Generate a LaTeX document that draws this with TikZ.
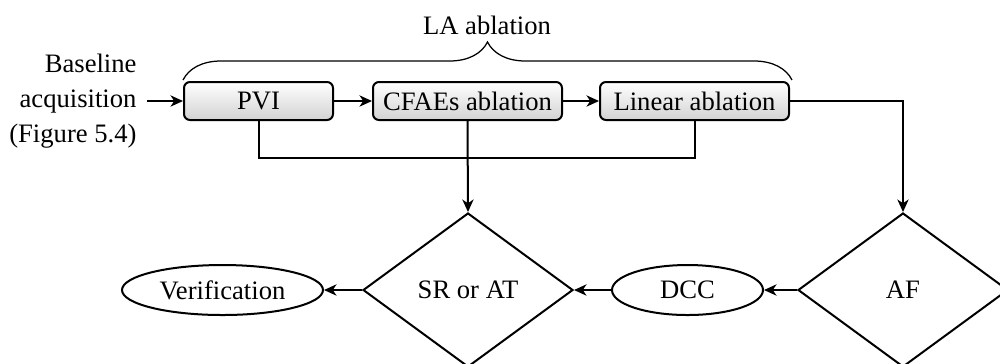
\documentclass[tikz,border=0pt]{standalone}
\usepackage{fontspec}
\setmainfont{Liberation Serif}
\usetikzlibrary{shapes.geometric,arrows.meta,decorations.pathreplacing}
\begin{document}
\begin{tikzpicture}[x=0.4pt,y=-0.4pt,
  font=\fontsize{10.65pt}{14pt}\selectfont,
  proc/.style={draw, line width=0.8pt, rounded corners=2.4pt, top color=white, bottom color=gray!35, minimum height=15.2pt, inner sep=0pt},
  dec/.style={draw, diamond, line width=0.8pt, minimum width=84pt, minimum height=61.6pt, inner sep=0pt},
  term/.style={draw, ellipse, line width=0.8pt, minimum height=20pt, inner sep=0pt},
  conn/.style={line width=0.8pt, -{Stealth[length=5pt,width=4.5pt,inset=1.5pt]}},
  plain/.style={line width=0.8pt},
  bracestyle/.style={decorate, decoration={brace, amplitude=15.2pt}, line width=0.5pt}]
\useasboundingbox (0,0) rectangle (1000,363);
\node[proc, minimum width=59.6pt] (pvi) at (258.5,101) {PVI};
\node[proc, minimum width=75.6pt] (cfae) at (467.5,101) {CFAEs ablation};
\node[proc, minimum width=75.6pt] (lin) at (694.5,101) {Linear ablation};
\node[dec] (sr) at (468,290) {SR or AT};
\node[dec] (af) at (903,290) {AF};
\node[term, minimum width=80.4pt] (ver) at (222.5,290) {Verification};
\node[term, minimum width=60.4pt] (dcc) at (687.5,290) {DCC};
\node[align=right, anchor=east, inner xsep=4pt, inner ysep=0pt] (base) at (147,101) {Baseline\\acquisition\\(Figure 5.4)};
\node (la) at (487,25) {LA ablation};
\coordinate (bl) at (183,80);
\coordinate (br) at (792,80);
\draw[bracestyle] (bl) -- (br);
\draw[conn] (base.east) -- (pvi.west);
\draw[conn] (pvi) -- (cfae);
\draw[conn] (cfae) -- (lin);
\draw[plain] (pvi.south) -- ++(0,37) -| (lin.south);
\draw[conn] (cfae.south) -- (sr.north);
\draw[conn] (lin.east) -| (af.north);
\draw[conn] (af.west) -- (dcc.east);
\draw[conn] (dcc.west) -- (sr.east);
\draw[conn] (sr.west) -- (ver.east);
\end{tikzpicture}
\end{document}
